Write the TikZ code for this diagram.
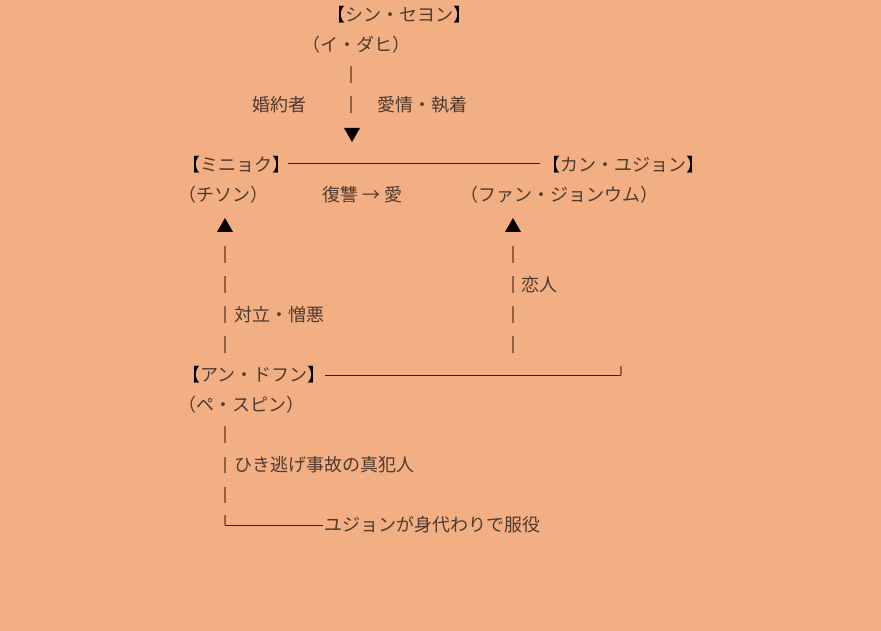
\documentclass[tikz,border=0pt]{standalone}
\usepackage{fontspec}
\newfontfamily\jp{Noto Sans CJK JP}
\definecolor{bg}{HTML}{F2AF84}
\definecolor{txt}{HTML}{4E3A2E}
\definecolor{bar}{HTML}{94603F}
\definecolor{rulec}{HTML}{3A1E0E}
\newcommand{\bk}[1]{\textcolor{black}{#1}}
\tikzset{
  t/.style={anchor=west,inner sep=0pt,font=\jp\fontsize{18}{18}\selectfont,text=txt},
  vbar/.style={draw=bar,line width=1.1pt},
  hline/.style={draw=rulec,line width=1pt},
  tri/.style={fill=black}
}
\begin{document}
\begin{tikzpicture}[x=1pt,y=-1pt]
\fill[bg] (0,0) rectangle (881,631);
\useasboundingbox (0,0) rectangle (881,631);
% names
\node[t] (sin) at (327,15) {\bk{【}シン・セヨン\bk{】}};
\node[t] (ida) at (302,45) {（イ・ダヒ）};
\node[t] (kon) at (252,105) {婚約者};
\node[t] (aij) at (377,105) {愛情・執着};
\node[t] (min) at (182,165) {\bk{【}ミニョク\bk{】}};
\node[t] (kan) at (542,165) {\bk{【}カン・ユジョン\bk{】}};
\node[t] (chi) at (178,195) {（チソン）};
\node[t] (fuk) at (322,195) {復讐 → 愛};
\node[t] (fan) at (460,195) {（ファン・ジョンウム）};
\node[t] (koi) at (521,285) {恋人};
\node[t] (tai) at (234,315) {対立・憎悪};
\node[t] (ann) at (182,375) {\bk{【}アン・ドフン\bk{】}};
\node[t] (pes) at (178,405) {（ペ・スピン）};
\node[t] (hik) at (234,465) {ひき逃げ事故の真犯人};
\node[t] (yuj) at (324,525) {ユジョンが身代わりで服役};
% vertical bars
\foreach \a/\b in {66/83,96/113} \draw[vbar] (351,\a) -- (351,\b);
\foreach \a/\b in {246/263,276/293,306/323,336/353} {
  \draw[vbar] (225,\a) -- (225,\b);
  \draw[vbar] (513,\a) -- (513,\b);
}
\foreach \a/\b in {426/443,457/473,487/503} \draw[vbar] (225,\a) -- (225,\b);
% triangles
\fill[tri] (344,128) -- (360,128) -- (352,142) -- cycle;
\fill[tri] (217,232) -- (233,232) -- (225,218) -- cycle;
\fill[tri] (505,232) -- (521,232) -- (513,218) -- cycle;
% horizontal lines
\coordinate (l1a) at (288,164);
\coordinate (l1b) at (540,164);
\draw[hline] (l1a) -- (l1b);
\coordinate (l2a) at (325,375);
\coordinate (l2b) at (621,375);
\draw[hline] (l2a) -- (l2b);
\draw[vbar] (621,366) -- (621,375);
\coordinate (c1) at (225,515);
\coordinate (c2) at (225,525);
\coordinate (c3) at (323,525);
\draw[vbar] (c1) -- (c2);
\draw[hline] (c2) -- (c3);
\end{tikzpicture}
\end{document}
